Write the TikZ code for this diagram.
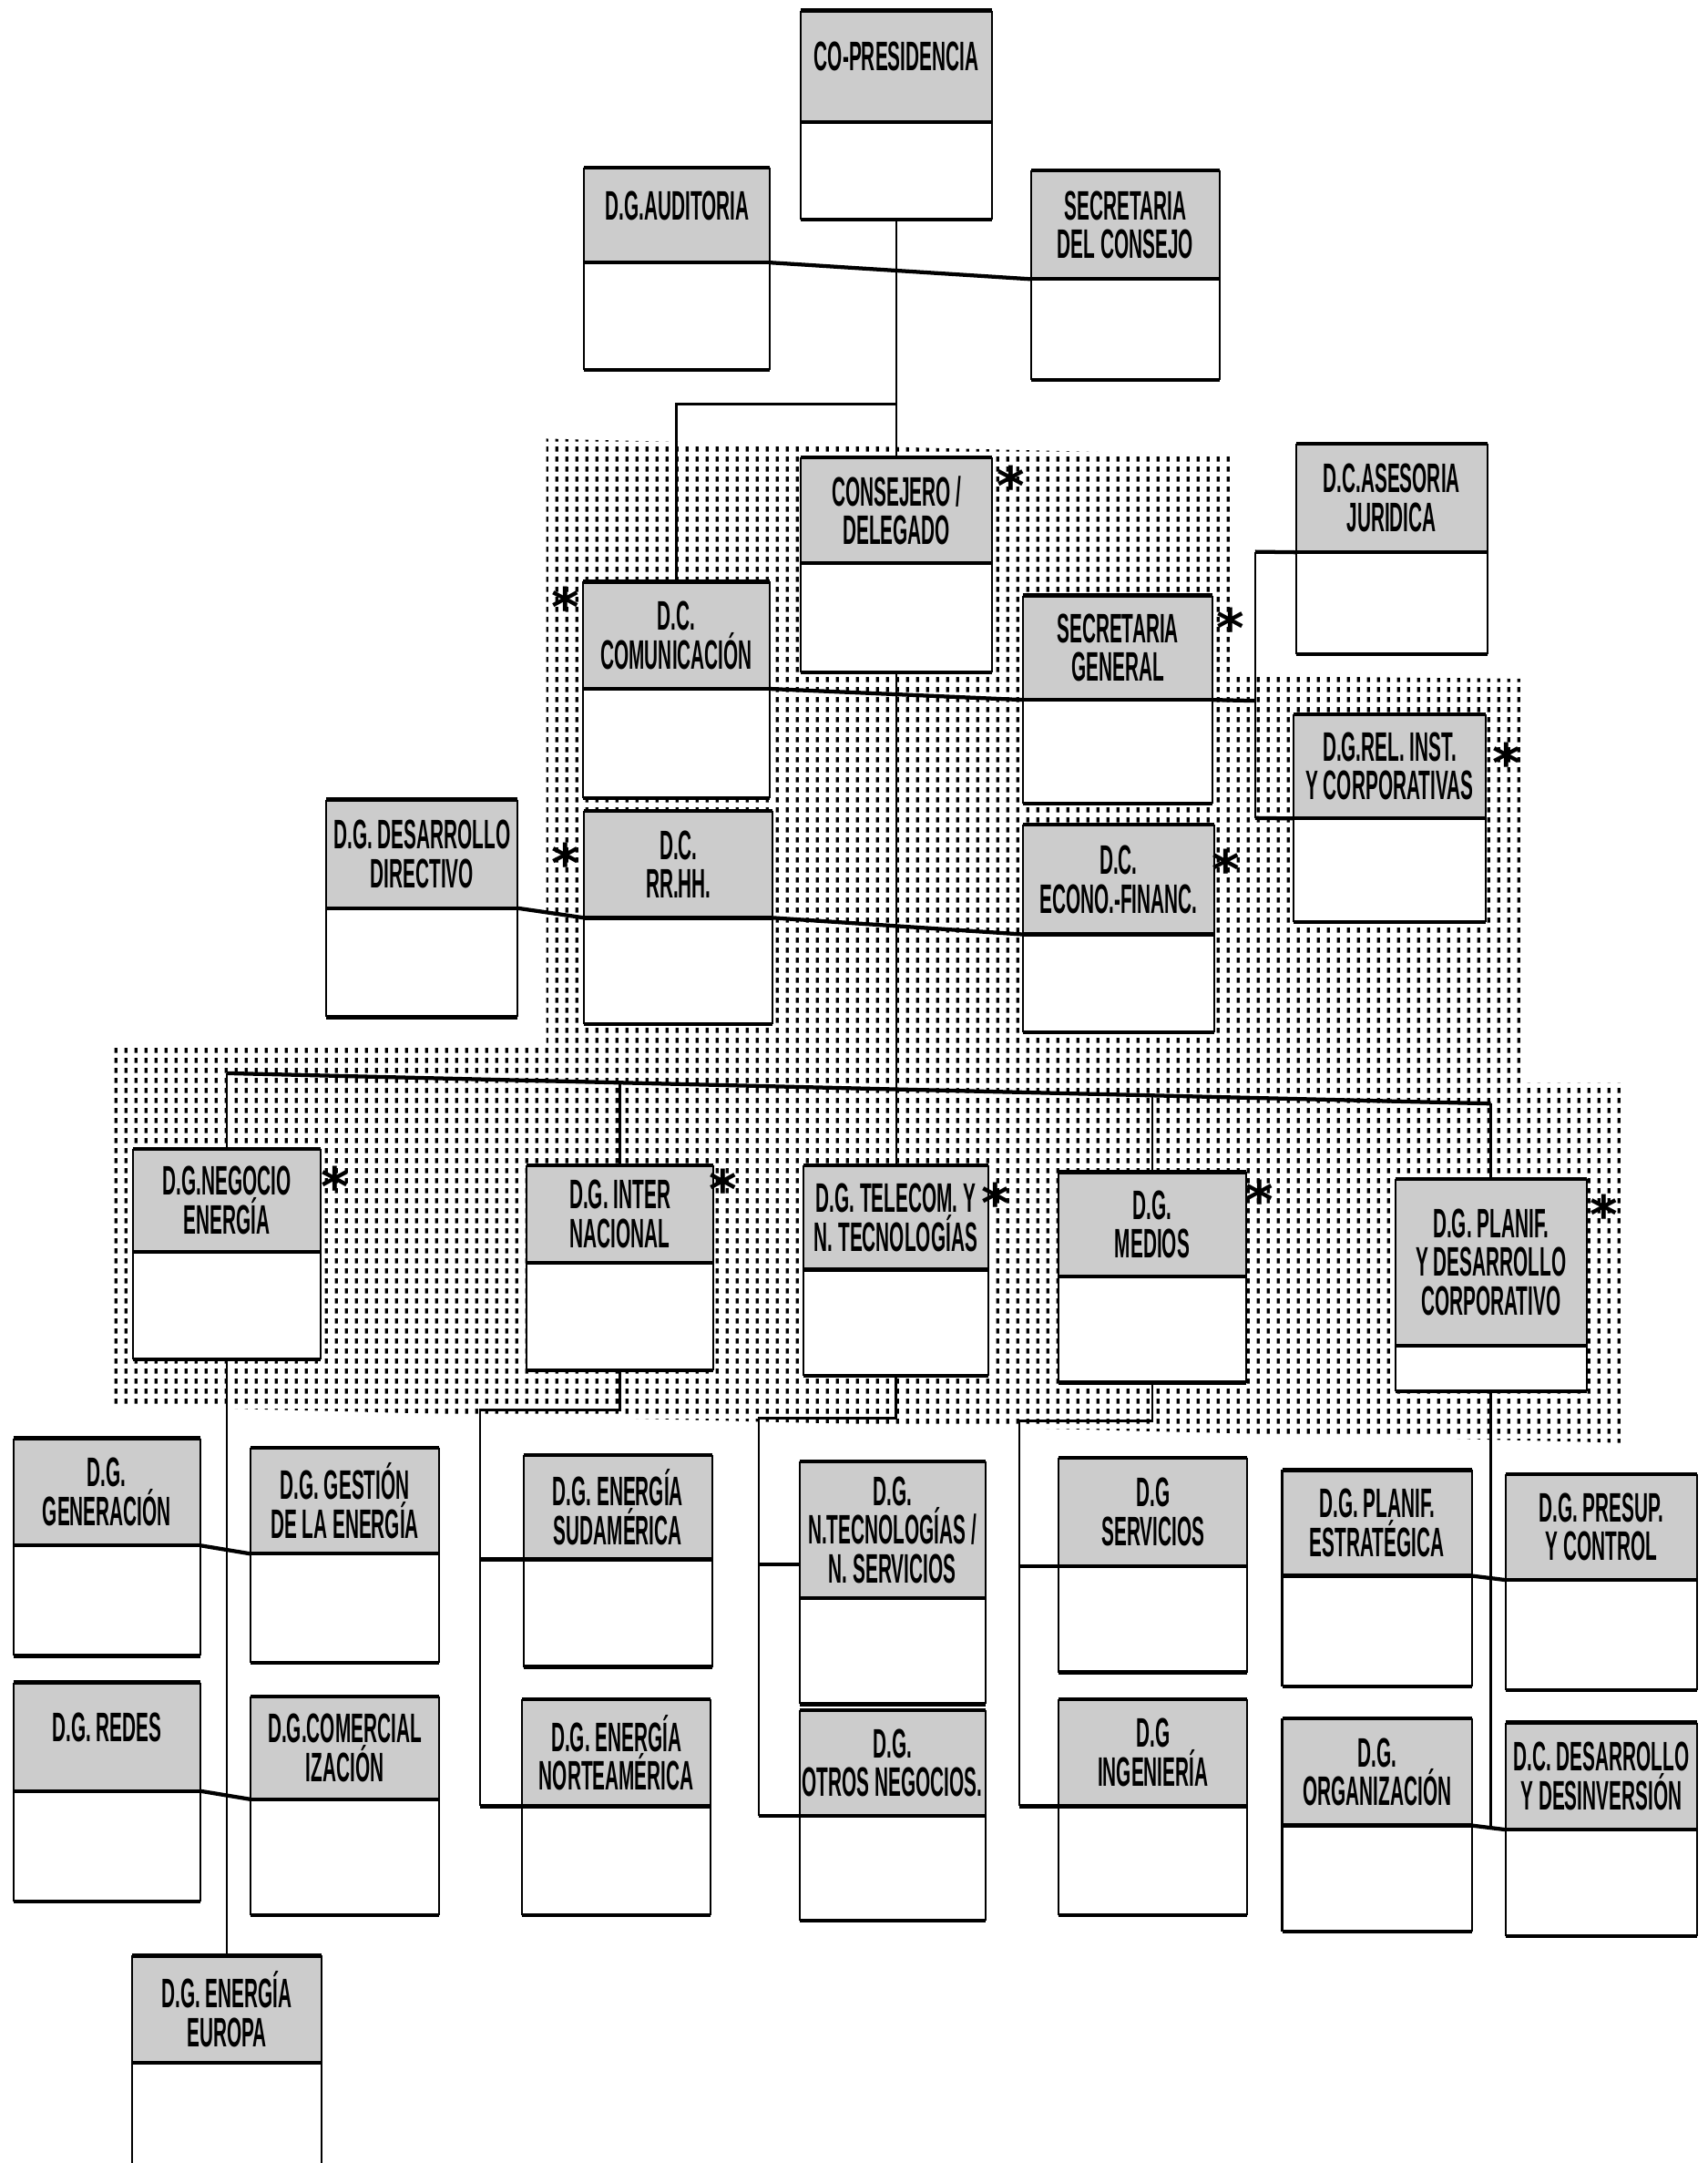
\documentclass[tikz,border=0pt]{standalone}
\usepackage{fontspec}
\setmainfont{Liberation Sans}[FakeStretch=0.46]
\newfontfamily\starfont{DejaVu Sans}
\usetikzlibrary{fit,patterns}

\pgfdeclarepatternformonly{vdashes}{\pgfqpoint{0pt}{0pt}}{\pgfqpoint{4.2pt}{4pt}}{\pgfqpoint{4.2pt}{4pt}}{%
  \pgfsetlinewidth{1.25pt}%
  \pgfpathmoveto{\pgfqpoint{2.1pt}{0.9pt}}%
  \pgfpathlineto{\pgfqpoint{2.1pt}{3.1pt}}%
  \pgfusepath{stroke}%
}

\tikzset{
  hdr/.style={fill=gray!40},
  boxtxt/.style={font=\bfseries\fontsize{17}{16}\selectfont, align=center, inner sep=0pt},
  sideline/.style={line width=0.8pt},
  edgeline/.style={line width=1.6pt},
  conn/.style={line width=0.9pt},
  hconn/.style={line width=1.6pt},
  starmark/.style={font=\starfont\bfseries\fontsize{22}{22}\selectfont, inner sep=0pt},
  oneline/.style={yshift=1.4mm},
}

% [#1 text options] #2 name, #3 left, #4 top, #5 right, #6 divider, #7 bottom, #8 text
\newcommand\obox[8][]{%
  \fill[white] (#3,#4) rectangle (#5,#7);
  \fill[hdr] (#3,#4) rectangle (#5,#6);
  \node[fit={(#3,#4) (#5,#7)}, inner sep=0pt] (#2) {};
  \node[fit={(#3,#4) (#5,#6)}, inner sep=0pt] (#2h) {};
  \node[boxtxt,#1] (#2t) at (#2h.center) {#8};
  \draw[sideline] (#2.north west) -- (#2.south west) (#2.north east) -- (#2.south east);
  \draw[edgeline] (#2.north west) -- (#2.north east) (#2h.south west) -- (#2h.south east) (#2.south west) -- (#2.south east);
}

\begin{document}
\begin{tikzpicture}[x=0.2mm, y=-0.2mm]
\useasboundingbox[fill=white] (0,0) rectangle (1238,1568);

% stippled region
\fill[pattern=vdashes] (396,318) -- (896,330) -- (896,490) -- (1104,492) -- (1104,785)
  -- (1178,785) -- (1178,1046) -- (80,1019) -- (80,758) -- (396,758) -- cycle;

% junction coordinates
\coordinate (b1) at (650,293);
\coordinate (jv1) at (910,400);
\coordinate (jv2) at (910,508);
\coordinate (jv3) at (910,593);
\coordinate (barL) at (164.5,778);
\coordinate (barR) at (1081,800);
\coordinate (bi) at (449.5,785);
\coordinate (bm) at (835.5,794);
\coordinate (ib) at (348,1022);
\coordinate (tb) at (550,1028);
\coordinate (tn) at (550,1134);
\coordinate (mb) at (739,1030);

% boxes
\obox[oneline]{copres}{581}{8}{719}{88}{159}{CO-PRESIDENCIA}
\obox[oneline]{aud}{424}{122}{558}{190}{268}{D.G.AUDITORIA}
\obox{secc}{748}{124}{884}{202}{275}{SECRETARIA\\DEL CONSEJO}
\obox{cons}{581}{332}{719}{408}{487}{CONSEJERO /\\DELEGADO}
\obox{jur}{940}{322}{1078}{400}{474}{D.C.ASESORIA\\JURIDICA}
\obox{com}{423}{422}{558}{499}{578}{D.C.\\COMUNICACIÓN}
\obox{sg}{742}{432}{879}{507}{582}{SECRETARIA\\GENERAL}
\obox{rel}{938}{518}{1077}{593}{668}{D.G.REL. INST.\\Y CORPORATIVAS}
\obox{dd}{237}{580}{375}{658}{737}{D.G. DESARROLLO\\DIRECTIVO}
\obox{rrhh}{424}{588}{560}{665}{742}{D.C.\\RR.HH.}
\obox{ef}{742}{598}{880}{677}{748}{D.C.\\ECONO.-FINANC.}
\obox{neg}{97}{833}{232}{907}{985}{D.G.NEGOCIO\\ENERGÍA}
\obox{int}{382}{845}{517}{915}{993}{D.G. INTER\\NACIONAL}
\obox{tel}{583}{845}{716}{920}{997}{D.G. TELECOM. Y\\N. TECNOLOGÍAS}
\obox{med}{768}{850}{903}{925}{1002}{D.G.\\MEDIOS}
\obox{pla}{1012}{855}{1150}{975}{1008}{D.G. PLANIF.\\Y DESARROLLO\\CORPORATIVO}
\obox{gen}{10}{1043}{145}{1120}{1200}{D.G.\\GENERACIÓN}
\obox{ges}{182}{1050}{318}{1126}{1205}{D.G. GESTIÓN\\DE LA ENERGÍA}
\obox[oneline]{red}{10}{1220}{145}{1298}{1378}{D.G. REDES}
\obox{cmz}{182}{1230}{318}{1304}{1388}{D.G.COMERCIAL\\IZACIÓN}
\obox{eur}{96}{1418}{233}{1495}{1576}{D.G. ENERGÍA\\EUROPA}
\obox{sud}{380}{1055}{516}{1130}{1208}{D.G. ENERGÍA\\SUDAMÉRICA}
\obox{nor}{379}{1232}{515}{1309}{1388}{D.G. ENERGÍA\\NORTEAMÉRICA}
\obox{ntec}{580}{1060}{714}{1158}{1235}{D.G.\\N.TECNOLOGÍAS /\\N. SERVICIOS}
\obox{otr}{580}{1240}{714}{1316}{1392}{D.G.\\OTROS NEGOCIOS.}
\obox{ser}{768}{1057}{904}{1135}{1212}{D.G\\SERVICIOS}
\obox{ing}{768}{1232}{904}{1309}{1388}{D.G\\INGENIERÍA}
\obox{est}{930}{1066}{1067}{1142}{1222}{D.G. PLANIF.\\ESTRATÉGICA}
\obox{pre}{1092}{1069}{1230}{1145}{1225}{D.G. PRESUP.\\Y CONTROL}
\obox{org}{930}{1246}{1067}{1323}{1400}{D.G.\\ORGANIZACIÓN}
\obox{des}{1092}{1249}{1230}{1326}{1403}{D.C. DESARROLLO\\Y DESINVERSIÓN}

% connectors
\draw[conn] (copres.south) -- (cons.north);
\draw[conn] (com.north) |- (b1);
\draw[hconn] (audh.south east) -- (secch.south west);
\draw[conn] (cons.south) -- (cons.south |- tel.north);
\draw[hconn] (comh.south east) -- (sgh.south west);
\draw[hconn] (sgh.south east) -- (jv2);
\draw[hconn] (jurh.south west) -- (jv1);
\draw[conn] (jv1) -- (jv3);
\draw[hconn] (jv3) -- (relh.south west);
\draw[hconn] (ddh.south east) -- (rrhhh.south west);
\draw[hconn] (rrhhh.south east) -- (efh.south west);
\draw[hconn] (barL) -- (barR);
\draw[conn] (neg.north) -- (barL);
\draw[conn] (int.north) -- (int.north |- bi);
\draw[conn] (med.north) -- (med.north |- bm);
\draw[conn] (pla.north) -- (barR);
\draw[conn] (neg.south) -- (neg.south |- eur.north);
\draw[hconn] (genh.south east) -- (gesh.south west);
\draw[hconn] (redh.south east) -- (cmzh.south west);
\draw[conn] (int.south) |- (ib) -- (ib |- norh.south west);
\draw[hconn] (ib |- norh.south west) -- (norh.south west);
\draw[hconn] (ib |- sudh.south west) -- (sudh.south west);
\draw[conn] (tel.south) |- (tb) -- (tb |- otrh.south west);
\draw[hconn] (tb |- otrh.south west) -- (otrh.south west);
\draw[hconn] (tn) -- (tn -| ntec.west);
\draw[conn] (med.south) |- (mb) -- (mb |- ingh.south west);
\draw[hconn] (mb |- ingh.south west) -- (ingh.south west);
\draw[hconn] (mb |- serh.south west) -- (serh.south west);
\draw[conn] (pla.south) -- (pla.south |- orgh.south east);
\draw[hconn] (esth.south east) -- (preh.south west);
\draw[hconn] (orgh.south east) -- (desh.south west);

% stars
\node[starmark] (st1) at (733,352) {*};
\node[starmark] (st2) at (410,440) {*};
\node[starmark] (st3) at (892,455) {*};
\node[starmark] (st4) at (1092,553) {*};
\node[starmark] (st5) at (410,625) {*};
\node[starmark] (st6) at (889,630) {*};
\node[starmark] (st7) at (243,860) {*};
\node[starmark] (st8) at (524,862) {*};
\node[starmark] (st9) at (722,872) {*};
\node[starmark] (st10) at (913,870) {*};
\node[starmark] (st11) at (1163,880) {*};
\end{tikzpicture}
\end{document}
